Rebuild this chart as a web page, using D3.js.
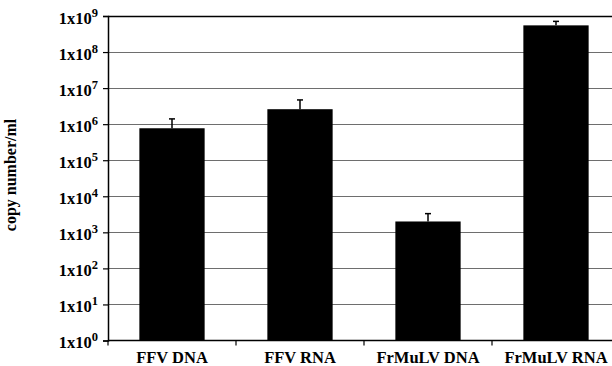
<!DOCTYPE html>
<html><head><meta charset="utf-8">
<script src="https://cdn.jsdelivr.net/npm/d3@7"></script>
<style>body{margin:0;background:#fff}svg{display:block}text{font-family:"Liberation Serif","Times New Roman",serif;font-weight:bold;fill:#000}</style>
</head><body>
<svg id="c" width="612" height="366"></svg>
<script>
const categories = ["FFV DNA", "FFV RNA", "FrMuLV DNA", "FrMuLV RNA"];
const values = [7.7e5, 2.6e6, 2.0e3, 5.5e8];
const errorTops = [1.4e6, 4.7e6, 3.3e3, 7.1e8];
const tickExps = [0, 1, 2, 3, 4, 5, 6, 7, 8, 9];
const yTitle = "copy number/ml";

(function () {
const svg = d3.select("#c");
const pLeft = 108, pRight = 620, pTop = 16, pBottom = 340.5;
const x = d3.scaleBand().domain(categories).range([pLeft, pRight]).paddingInner(0.49).paddingOuter(0.245);
const y = d3.scaleLog().domain([1, 1e9]).range([pBottom, pTop]);

// gridlines
svg.append("g").selectAll("line").data(tickExps.filter(e => e > 0)).join("line")
  .attr("x1", pLeft).attr("x2", 612)
  .attr("y1", e => Math.round(y(Math.pow(10, e))) + 0.5)
  .attr("y2", e => Math.round(y(Math.pow(10, e))) + 0.5)
  .attr("stroke", e => e === 9 ? "#000" : "#6e6e6e")
  .attr("stroke-width", e => e === 9 ? 1.6 : 1.2);

// bars
svg.append("g").selectAll("rect").data(categories).join("rect")
  .attr("x", d => x(d)).attr("width", x.bandwidth())
  .attr("y", (d, i) => y(values[i]))
  .attr("height", (d, i) => pBottom - y(values[i]))
  .attr("fill", "#000");

// error bars
const eg = svg.append("g").attr("stroke", "#000").attr("stroke-width", 1.5);
categories.forEach((c, i) => {
  const cx = x(c) + x.bandwidth() / 2;
  eg.append("line").attr("x1", cx).attr("x2", cx).attr("y1", y(values[i])).attr("y2", y(errorTops[i]));
  eg.append("line").attr("x1", cx - 3).attr("x2", cx + 3).attr("y1", y(errorTops[i])).attr("y2", y(errorTops[i]));
});

// y axis
const ya = svg.append("g").attr("transform", `translate(${pLeft},0)`)
  .call(d3.axisLeft(y).tickValues(tickExps.map(e => Math.pow(10, e))).tickSize(5).tickFormat(""));
ya.select(".domain").attr("stroke-width", 1.5);
ya.selectAll(".tick line").attr("stroke-width", 1.2);
const lab = svg.append("g").selectAll("text").data(tickExps).join("text")
  .attr("x", 98).attr("y", e => y(Math.pow(10, e)) + 7.5)
  .attr("text-anchor", "end").attr("font-size", 16.5);
lab.append("tspan").text("1x10");
lab.append("tspan").attr("dy", -7).attr("font-size", 12.5).text(e => e);

// x axis
svg.append("line").attr("x1", pLeft).attr("x2", 612).attr("y1", pBottom).attr("y2", pBottom)
  .attr("stroke", "#000").attr("stroke-width", 1.5);
svg.append("g").selectAll("line").data(categories).join("line")
  .attr("x1", (d, i) => pLeft + i * x.step()).attr("x2", (d, i) => pLeft + i * x.step())
  .attr("y1", pBottom).attr("y2", pBottom + 5).attr("stroke", "#000").attr("stroke-width", 1.2);
svg.append("g").selectAll("text").data(categories).join("text")
  .attr("x", d => x(d) + x.bandwidth() / 2).attr("y", 363)
  .attr("text-anchor", "middle").attr("font-size", 16.5).text(d => d);

// y title
svg.append("text").attr("transform", "translate(16,175) rotate(-90)")
  .attr("text-anchor", "middle").attr("font-size", 16).text(yTitle);
})();
</script>
</body></html>
